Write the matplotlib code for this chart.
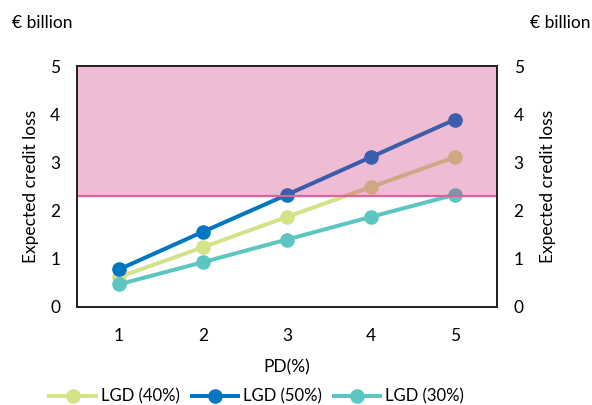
import matplotlib.pyplot as plt
from matplotlib.lines import Line2D

plt.rcParams['font.family'] = ['Lato', 'DejaVu Sans']

pd_pct = [1, 2, 3, 4, 5]
lgd_40 = [0.62, 1.24, 1.87, 2.49, 3.11]
lgd_50 = [0.78, 1.56, 2.33, 3.11, 3.89]
lgd_30 = [0.47, 0.93, 1.40, 1.87, 2.33]
threshold = 2.30
y_max = 5

series = [
    ("LGD (40%)", lgd_40, "#D5E28A"),
    ("LGD (50%)", lgd_50, "#0077C0"),
    ("LGD (30%)", lgd_30, "#5DC6C0"),
]

fig = plt.figure(figsize=(5.92, 4.05), dpi=100)
ax = fig.add_axes([0.130, 0.242, 0.7095, 0.595])

for name, vals, col in series:
    ax.plot(pd_pct, vals, color=col, lw=2.9, marker="o", ms=9.5, zorder=3)

# shaded zone above threshold, drawn over the lines
ax.axhspan(threshold, y_max, color="#CA2174", alpha=0.3, lw=0, zorder=4)
ax.axhline(threshold, color="#E0609A", lw=1.6, zorder=5)

ax.set_xlim(0.5, 5.5)
ax.set_ylim(0, y_max)
ax.set_xticks(pd_pct)
ax.set_yticks(range(0, 6))
ax.tick_params(length=0, labelsize=12.5, pad=12)
ax.tick_params(axis="x", pad=15)
ax.set_xlabel("PD(%)", fontsize=12.5, labelpad=11)
ax.set_ylabel("Expected credit loss", fontsize=12.5, labelpad=8)
for s in ax.spines.values():
    s.set_linewidth(1.3)
    s.set_color("#222222")

ax2 = ax.twinx()
ax2.set_ylim(0, y_max)
ax2.set_yticks(range(0, 6))
ax2.tick_params(length=0, labelsize=12.5, pad=12)
ax2.set_ylabel("Expected credit loss", fontsize=12.5, labelpad=12)
for s in ax2.spines.values():
    s.set_linewidth(1.3)
    s.set_color("#222222")

fig.text(0.02, 0.943, "€ billion", fontsize=12.5, ha="left", va="center")
fig.text(0.997, 0.943, "€ billion", fontsize=12.5, ha="right", va="center")

handles = [Line2D([], [], color=c, lw=2.9, marker="o", ms=9.5) for _, _, c in series]
fig.legend(handles, [n for n, _, _ in series], loc="lower left",
           bbox_to_anchor=(0.058, -0.036), ncol=3, frameon=False, fontsize=12,
           handlelength=2.8, columnspacing=0.7, handletextpad=0.3)

fig.savefig("out.png", dpi=100)
